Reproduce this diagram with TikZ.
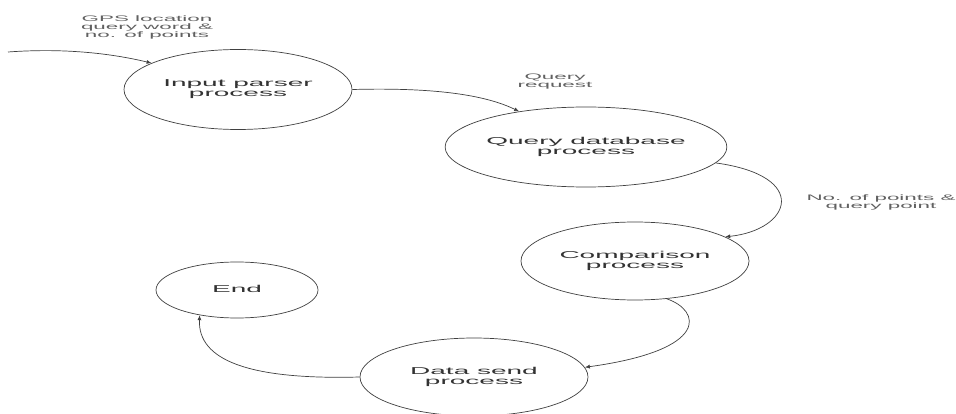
\documentclass[tikz,border=0pt]{standalone}
\usepackage{graphicx}
\usepackage{fontspec}
\setmainfont{Liberation Sans}
\usetikzlibrary{arrows.meta,shapes.geometric}

% text is set wide: every label is stretched horizontally
\newcommand{\widetext}[2]{\scalebox{2.8}[1]{\fontsize{#1}{#1}\selectfont\begin{tabular}{@{}c@{}}#2\end{tabular}}}

\begin{document}
\begin{tikzpicture}[x=1pt,y=-1pt,
  process/.style={ellipse, draw=black!75, line width=0.7pt, inner sep=0pt,
                  text=black!80, minimum width=228pt, minimum height=80pt},
  flowlabel/.style={inner sep=0pt, text=black!62},
  flow/.style={draw=black!75, line width=0.7pt,
               -{Latex[length=5pt,width=4pt]}}]

\useasboundingbox (0,0) rectangle (956,414);
\fill[white] (0,0) rectangle (956,414);

\renewcommand{\arraystretch}{1.0}

% processes
\node[process] (parser)  at (238,89.5) {\widetext{10}{\fontsize{10}{12.5}\selectfont Input parser\\process}};
\node[process] (query)   at (586,147)  {\widetext{10}{\fontsize{10}{12.5}\selectfont Query database\\process}};
\node[process, minimum height=78pt] (compare) at (635,261) {\widetext{10}{\fontsize{10}{12.5}\selectfont Comparison\\process}};
\node[process, minimum height=78pt] (send)    at (474,377) {\widetext{10}{\fontsize{10}{12.5}\selectfont Data send\\process}};
\node[process, minimum width=162pt, minimum height=56pt] (finish) at (237,290) {\widetext{10}{End}};

% flow labels
\node[flowlabel] (lblin)  at (147,28)  {\widetext{8}{\fontsize{8}{11}\selectfont GPS location\\query word \&\\no. of points}};
\node[flowlabel] (lblreq) at (555,82)  {\widetext{8}{\fontsize{8}{10.5}\selectfont Query\\request}};
\node[flowlabel] (lblpts) at (881,203) {\widetext{8}{\fontsize{8}{11}\selectfont No. of points \&\\query point}};

% incoming data
\coordinate (source) at (8,52);

% flows
\draw[flow] (source) .. controls +(55,-4) and +(-42,-10) .. (parser.163);
\draw[flow] (parser.east) .. controls +(58,-1.5) and +(-43,-21) .. (query.152);
\draw[flow] (query.-7) .. controls +(95,13) and +(66,-7) .. (compare.15);
\draw[flow] (compare.-50) .. controls +(34,11.5) and +(126.5,-17.4) .. (send.5);
\draw[flow] (send.west) .. controls +(-111,3) and +(-2,45) .. (finish.214);

\end{tikzpicture}
\end{document}
